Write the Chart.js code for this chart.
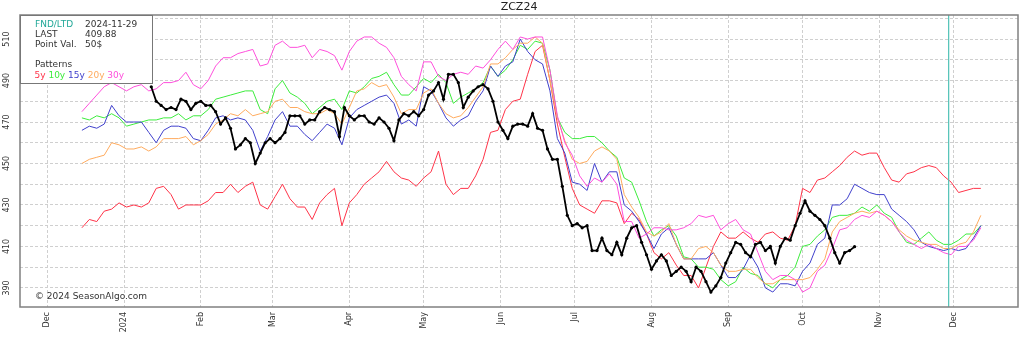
<!DOCTYPE html>
<html>
<head>
<meta charset="utf-8">
<title>ZCZ24</title>
<script src="https://cdn.jsdelivr.net/npm/chart.js"></script>
<style>
  body { margin: 0; background: #fff; }
  canvas { display: block; }
</style>
</head>
<body>
<canvas id="seasonChart" width="1024" height="340"></canvas>
<script>
const symbol = "ZCZ24";
const fndDate = "2024-11-29";
const pointValue = "50$";

// AXES
const baseDate = "2023-12-01";
const viewStart = "2023-11-20";
const viewEnd = "2024-12-27";
const monthTicks = ["2023-12-01", "2024-01-01", "2024-02-01", "2024-03-01", "2024-04-01", "2024-05-01", "2024-06-01",
    "2024-07-01", "2024-08-01", "2024-09-01", "2024-10-01", "2024-11-01", "2024-12-01"];
const monthLabels = ["Dec", "2024", "Feb", "Mar", "Apr", "May", "Jun", "Jul", "Aug", "Sep", "Oct", "Nov", "Dec"];
const yMin = 380.8;
const yMax = 521.6;
const yGrid = [390, 400, 410, 420, 430, 440, 450, 460, 470, 480, 490, 500, 510, 520];
const yLabels = [390, 410, 430, 450, 470, 490, 510];

// SEASONAL PATTERNS (one value every 3 days)
const patternStart = "2023-12-15";
const patternStep = 3;

const p5y = [419, 423, 422, 427, 428, 431, 429, 430, 429, 431, 438, 439, 435, 428, 430, 430, 430, 432, 436, 436,
    440, 436, 439, 441, 430, 428, 434, 440, 433, 429, 429, 423, 431, 435, 438, 420, 431, 435, 440, 443,
    446, 451, 446, 443, 442, 439, 443, 446, 456, 440, 435, 438, 438, 444, 452, 465, 466, 476, 480, 481,
    493, 504, 507, 490, 469, 453, 438, 430, 428, 426, 432, 432, 431, 421, 426, 423, 416, 407, 404, 407,
    401, 396, 396, 390, 400, 410, 417, 414, 414, 417, 414, 412, 416, 417, 414, 413, 420, 438, 436, 442,
    443, 446, 449, 453, 456, 454, 455, 455, 448, 442, 441, 445, 446, 448, 449, 448, 444, 441, 436, 437,
    438, 438];

const p10y = [472, 471, 473, 472, 474, 472, 468, 469, 470, 471, 471, 472, 472, 474, 471, 473, 473, 476, 481, 482,
    483, 484, 485, 485, 476, 474, 486, 490, 484, 482, 479, 474, 477, 480, 481, 476, 485, 484, 487, 491,
    492, 494, 488, 483, 483, 487, 491, 489, 493, 489, 479, 482, 484, 486, 489, 497, 492, 495, 500, 507,
    505, 509, 508, 495, 472, 465, 462, 462, 463, 463, 460, 456, 453, 443, 441, 432, 422, 415, 418, 420,
    415, 405, 404, 400, 400, 399, 394, 391, 393, 400, 397, 396, 392, 390, 394, 396, 400, 410, 411, 415,
    418, 424, 425, 425, 426, 429, 427, 430, 426, 424, 417, 412, 411, 414, 417, 413, 411, 411, 413, 416,
    416, 420];

const p15y = [466, 468, 467, 469, 478, 473, 470, 470, 470, 465, 460, 466, 468, 468, 467, 462, 461, 466, 472, 473,
    471, 472, 471, 466, 456, 463, 471, 475, 468, 468, 464, 461, 465, 469, 467, 459, 472, 476, 478, 480,
    482, 483, 479, 469, 471, 468, 487, 485, 479, 472, 468, 471, 473, 480, 485, 497, 492, 497, 499, 510,
    504, 500, 498, 485, 462, 455, 441, 440, 437, 450, 441, 446, 446, 430, 427, 422, 416, 409, 416, 419,
    411, 404, 404, 404, 404, 407, 401, 395, 395, 399, 406, 400, 390, 388, 392, 392, 391, 398, 402, 411,
    414, 430, 430, 433, 440, 438, 436, 435, 435, 428, 425, 422, 418, 412, 410, 409, 408, 409, 408, 409,
    414, 420];

const p20y = [450, 452, 453, 454, 460, 459, 457, 457, 458, 456, 458, 462, 462, 462, 463, 459, 461, 464, 469, 471,
    474, 473, 476, 473, 474, 475, 480, 481, 477, 477, 475, 474, 474, 476, 474, 469, 477, 485, 486, 489,
    487, 488, 482, 474, 476, 476, 484, 486, 479, 474, 472, 473, 477, 482, 487, 498, 498, 501, 505, 508,
    508, 511, 508, 490, 472, 461, 452, 450, 451, 456, 458, 456, 452, 435, 429, 424, 417, 415, 417, 421,
    411, 404, 404, 409, 410, 407, 401, 398, 398, 399, 399, 395, 392, 392, 394, 394, 394, 394, 395, 399,
    404, 417, 422, 424, 426, 427, 426, 427, 425, 422, 418, 415, 413, 412, 411, 411, 409, 409, 411, 412,
    417, 425];

const p30y = [475, 479, 483, 487, 489, 487, 485, 487, 488, 485, 486, 489, 489, 490, 494, 488, 486, 490, 497, 501,
    501, 503, 504, 505, 497, 498, 507, 509, 506, 506, 507, 501, 505, 504, 502, 495, 504, 509, 511, 511,
    508, 506, 501, 492, 488, 485, 499, 499, 492, 490, 493, 494, 493, 497, 496, 500, 505, 509, 505, 511,
    510, 511, 511, 495, 473, 460, 454, 444, 439, 443, 441, 445, 440, 422, 422, 414, 416, 419, 419, 418,
    418, 419, 421, 425, 424, 425, 418, 421, 423, 418, 416, 407, 398, 394, 396, 396, 394, 388, 390, 398,
    401, 409, 418, 419, 423, 425, 424, 427, 425, 422, 417, 413, 411, 409, 411, 409, 407, 406, 410, 410,
    413, 419];

// ACTUAL PRICE (one value every 2 days)
const priceStart = "2024-01-12";
const priceStep = 2;
const price = [487, 480, 478, 476, 477, 476, 481, 480, 476, 479, 480, 478, 478, 475, 469, 472, 467, 457, 459, 462,
    460, 450, 455, 460, 462, 460, 462, 465, 473, 473, 473, 469, 471, 471, 475, 477, 476, 475, 463, 477,
    473, 471, 473, 473, 470, 469, 472, 470, 467, 461, 471, 474, 473, 475, 473, 476, 483, 485, 489, 481,
    493, 493, 489, 477, 482, 485, 487, 488, 486, 480, 470, 466, 462, 468, 469, 469, 468, 474, 467, 466,
    457, 452, 452, 439, 425, 420, 421, 419, 420, 408, 408, 414, 408, 406, 412, 406, 414, 419, 420, 412,
    406, 399, 403, 406, 403, 396, 398, 400, 398, 393, 400, 398, 393, 388, 391, 395, 402, 407, 412, 411,
    407, 405, 411, 412, 408, 410, 402, 410, 414, 413, 420, 426, 432, 427, 425, 423, 420, 414, 407, 402,
    407, 408, 409.88];

const lastPrice = price[price.length - 1];

const colors = {
    "5y": "#ff3348",
    "10y": "#3dec3d",
    "15y": "#4040cc",
    "20y": "#ffab5e",
    "30y": "#ff4fdc"
};

function dayOf(s) {
    return (Date.parse(s) - Date.parse(baseDate)) / 86400000;
}

function toPoints(start, step, values) {
    const d0 = dayOf(start);
    return values.map((v, i) => ({ x: d0 + step * i, y: v }));
}

function patternSet(label, values) {
    return {
        label: label,
        data: toPoints(patternStart, patternStep, values),
        borderColor: colors[label],
        borderWidth: 1,
        pointRadius: 0,
        tension: 0
    };
}

// FRAME, FND LINE, INFO BOX, COPYRIGHT
const overlay = {
    id: "overlay",
    afterDatasetsDraw(chart) {
        const { ctx, chartArea: a, scales: { x } } = chart;
        ctx.save();

        const fx = x.getPixelForValue(dayOf(fndDate));
        ctx.strokeStyle = "#4fc2b6";
        ctx.lineWidth = 1.2;
        ctx.beginPath();
        ctx.moveTo(fx, a.top);
        ctx.lineTo(fx, a.bottom);
        ctx.stroke();

        ctx.strokeStyle = "#808080";
        ctx.lineWidth = 1.5;
        ctx.strokeRect(a.left, a.top, a.right - a.left, a.bottom - a.top);

        // info box
        ctx.fillStyle = "#fff";
        ctx.fillRect(a.left, a.top, 132, 68);
        ctx.strokeStyle = "#777";
        ctx.lineWidth = 1;
        ctx.strokeRect(a.left + 0.5, a.top + 0.5, 132, 68);

        ctx.font = '9px "DejaVu Sans"';
        ctx.textBaseline = "middle";
        ctx.textAlign = "left";
        const c1 = a.left + 15, c2 = a.left + 65;
        ctx.fillStyle = "#22a898";
        ctx.fillText("FND/LTD", c1, a.top + 10);
        ctx.fillStyle = "#333";
        ctx.fillText(fndDate, c2, a.top + 10);
        ctx.fillText("LAST", c1, a.top + 20);
        ctx.fillText(lastPrice.toFixed(2), c2, a.top + 20);
        ctx.fillText("Point Val.", c1, a.top + 30);
        ctx.fillText(pointValue, c2, a.top + 30);
        ctx.fillText("Patterns", c1, a.top + 50);

        let px = c1 - 0.5;
        for (const k of Object.keys(colors)) {
            ctx.fillStyle = colors[k];
            ctx.fillText(k, px, a.top + 61);
            px += ctx.measureText(k + " ").width;
        }

        ctx.fillStyle = "#333";
        ctx.fillText("\u00a9 2024 SeasonAlgo.com", c1, a.bottom - 10);
        ctx.restore();
    }
};

const gridStyle = { color: "#cfcfcf", lineWidth: 1, drawTicks: false };
const borderStyle = { display: false, dash: [3, 2] };

const seasonChart = new Chart(document.getElementById("seasonChart"), {
    type: "line",
    data: {
        datasets: [
            {
                label: symbol,
                data: toPoints(priceStart, priceStep, price),
                borderColor: "#000",
                backgroundColor: "#000",
                borderWidth: 1.8,
                pointRadius: 1.6,
                pointBorderWidth: 0,
                tension: 0
            },
            patternSet("30y", p30y),
            patternSet("20y", p20y),
            patternSet("15y", p15y),
            patternSet("10y", p10y),
            patternSet("5y", p5y)
        ]
    },
    options: {
        responsive: false,
        animation: false,
        layout: { padding: { right: 6 } },
        plugins: {
            legend: { display: false },
            tooltip: { enabled: false },
            title: {
                display: true,
                text: symbol,
                fullSize: false,
                color: "#222",
                font: { family: "DejaVu Sans", size: 11, weight: "normal", lineHeight: 1 },
                padding: { top: 2, bottom: 2 }
            }
        },
        scales: {
            x: {
                type: "linear",
                min: dayOf(viewStart),
                max: dayOf(viewEnd),
                grid: gridStyle,
                border: borderStyle,
                afterBuildTicks: s => { s.ticks = monthTicks.map(d => ({ value: dayOf(d) })); },
                afterFit: s => { s.height = 33; },
                ticks: {
                    autoSkip: false,
                    minRotation: 90,
                    maxRotation: 90,
                    padding: 5,
                    color: "#333",
                    font: { family: "DejaVu Sans", size: 8 },
                    callback: (v, i) => monthLabels[i]
                }
            },
            y: {
                min: yMin,
                max: yMax,
                grid: gridStyle,
                border: borderStyle,
                afterBuildTicks: s => { s.ticks = yGrid.map(v => ({ value: v })); },
                afterFit: s => { s.width = 20; },
                ticks: {
                    minRotation: 90,
                    maxRotation: 90,
                    crossAlign: "center",
                    padding: 5,
                    color: "#333",
                    font: { family: "DejaVu Sans", size: 8 },
                    callback: v => yLabels.includes(v) ? String(v) : ""
                }
            }
        }
    },
    plugins: [overlay]
});
</script>
</body>
</html>
